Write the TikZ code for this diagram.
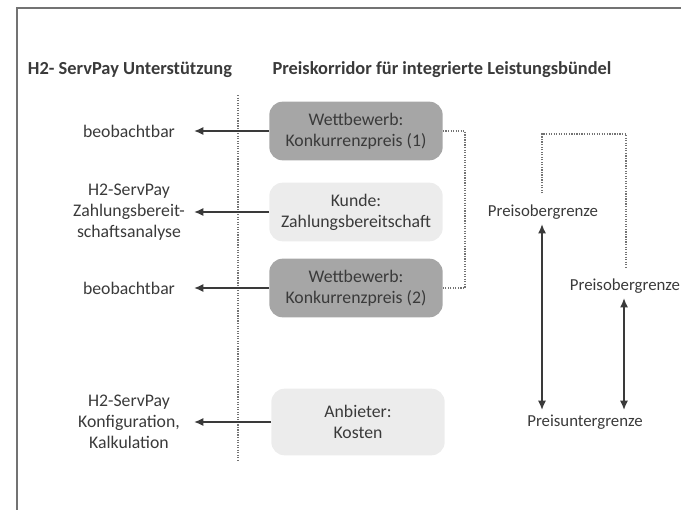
\documentclass[tikz,border=0pt]{standalone}
\usepackage{fontspec}
\usepackage{xcolor}
\setmainfont{Carlito}
\usetikzlibrary{arrows.meta,positioning}

\definecolor{boxdark}{RGB}{166,166,166}
\definecolor{boxlight}{RGB}{236,236,236}
\definecolor{txtgray}{RGB}{58,58,58}

\begin{document}
\begin{tikzpicture}[x=0.75pt,y=-0.75pt,
    font=\fontsize{13.3}{15.8}\selectfont, text=txtgray,
    preisbox/.style={rounded corners=10pt, minimum width=130pt, minimum height=44pt, align=center, inner sep=2pt},
    lefttext/.style={text width=97pt, align=center, inner sep=0pt},
    grenze/.style={font=\fontsize{12.6}{15}\selectfont},
    pfeil/.style={draw=txtgray, line width=1.3pt, -{Latex[length=7pt,width=6pt]}},
    doppelpfeil/.style={draw=txtgray, line width=1.3pt, {Latex[length=7pt,width=6pt]}-{Latex[length=7pt,width=6pt]}},
    punktlinie/.style={draw=black!55, line width=0.9pt, densely dotted}]
            \useasboundingbox (0,0) rectangle (681,510);

            % Draw the frame
            \draw[black!55, line width=1.1pt] (681,8) -- (17,8) -- (17,510);

            % Draw the headings
            \node[font=\fontsize{13.8}{16}\selectfont\bfseries] (kopflinks) at (130,70) {H2- ServPay Unterstützung};
            \node[font=\fontsize{13.8}{16}\selectfont\bfseries] (kopfrechts) at (442,70) {Preiskorridor für integrierte Leistungsbündel};

            % Draw the separator
            \coordinate (trennoben) at (238,95);
            \coordinate (trennunten) at (238,462);
            \draw[punktlinie] (trennoben) -- (trennunten);

            % Draw the price boxes
            \node[preisbox, fill=boxdark] (wett1) at (356,131) {Wettbewerb:\\Konkurrenzpreis (1)};
            \node[preisbox, fill=boxlight] (kunde) at (356,212) {Kunde:\\Zahlungsbereitschaft};
            \node[preisbox, fill=boxdark] (wett2) at (356,288) {Wettbewerb:\\Konkurrenzpreis (2)};
            \node[preisbox, fill=boxlight, minimum height=50pt] (anbieter) at (358,422) {Anbieter:\\Kosten};

            % Draw the left labels
            \node[lefttext] (beob1) at (129,131) {beobachtbar};
            \node[lefttext] (analyse) at (129,212) {H2-ServPay\\Zahlungsbereit-\\schaftsanalyse};
            \node[lefttext] (beob2) at (129,288) {beobachtbar};
            \node[lefttext] (kalk) at (129,422) {H2-ServPay\\Konfiguration,\\Kalkulation};

            % Draw the arrows to the left
            \draw[pfeil] (wett1.west) -- (beob1.east);
            \draw[pfeil] (kunde.west) -- (analyse.east);
            \draw[pfeil] (wett2.west) -- (beob2.east);
            \draw[pfeil] (anbieter.west) -- (kalk.east);

            % Draw the price limits
            \node[grenze] (pog1) at (543,212) {Preisobergrenze};
            \node[grenze] (pog2) at (625,286) {Preisobergrenze};
            \node[grenze] (pug) at (585,422) {Preisuntergrenze};
            \coordinate (achse1) at (542,0);
            \coordinate (achse2) at (624,0);
            \coordinate (achse3) at (626,0);

            \draw[doppelpfeil] (pog1.south -| achse1) -- (pug.north -| achse1);
            \draw[doppelpfeil] (pog2.south -| achse2) -- (pug.north -| achse2);

            % Draw the dotted links
            \coordinate (punktoben) at (584,134);
            \draw[punktlinie] (wett1.east) -- ++(22,0) |- (wett2.east);
            \draw[punktlinie, shorten <=5pt, shorten >=5pt] (pog1.north -| achse1) -- (punktoben -| achse1) -- (punktoben -| achse3) -- (pog2.north -| achse3);
        \end{tikzpicture}
\end{document}
